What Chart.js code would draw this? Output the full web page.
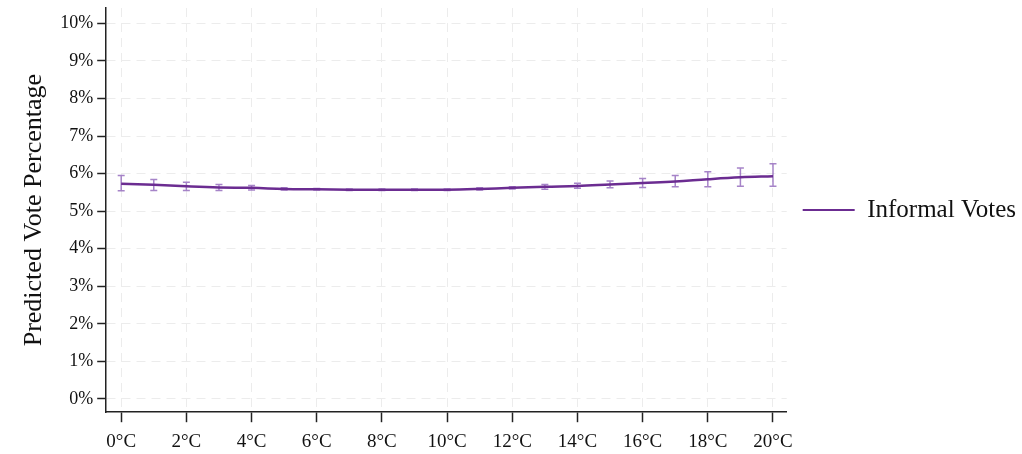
<!DOCTYPE html>
<html>
<head>
<meta charset="utf-8">
<script src="https://cdn.jsdelivr.net/npm/chart.js@4.4.0/dist/chart.umd.min.js"></script>
<style>
  html, body { margin: 0; padding: 0; background: #fff; }
  #wrap { width: 1022px; height: 454px; }
</style>
</head>
<body>
<div id="wrap"><canvas id="chart"></canvas></div>
<script>
// temperature (°C) and predicted share of informal votes (%)
const temps = [0, 1, 2, 3, 4, 5, 6, 7, 8, 9, 10, 11, 12, 13, 14, 15, 16, 17, 18, 19, 20];
const predicted = [5.73, 5.70, 5.66, 5.63, 5.62, 5.59, 5.58, 5.57, 5.57, 5.57, 5.57, 5.59, 5.62, 5.65, 5.67, 5.71, 5.75, 5.79, 5.85, 5.90, 5.93];
const lower = [5.54, 5.55, 5.55, 5.55, 5.56, 5.56, 5.56, 5.55, 5.55, 5.55, 5.55, 5.56, 5.59, 5.58, 5.61, 5.62, 5.63, 5.65, 5.65, 5.66, 5.66];
const upper = [5.95, 5.84, 5.77, 5.71, 5.68, 5.62, 5.60, 5.59, 5.59, 5.59, 5.59, 5.62, 5.65, 5.71, 5.74, 5.80, 5.87, 5.95, 6.05, 6.15, 6.26];
const xTicks = [0, 2, 4, 6, 8, 10, 12, 14, 16, 18, 20];
const yTicks = [0, 1, 2, 3, 4, 5, 6, 7, 8, 9, 10];

const lineColor = '#6b2c91';
const barColor = 'rgba(150, 110, 190, 0.85)';
const font = "'Liberation Serif', 'Times New Roman', serif";

// confidence intervals drawn under the line
const errorBars = {
    id: 'errorBars',
    beforeDatasetsDraw(chart) {
        const { ctx, chartArea, scales: { x, y } } = chart;
        ctx.save();
        ctx.beginPath();
        ctx.rect(chartArea.left, chartArea.top, chartArea.right - chartArea.left, chartArea.bottom - chartArea.top);
        ctx.clip();
        ctx.strokeStyle = barColor;
        ctx.lineWidth = 1.5;
        temps.forEach((t, i) => {
            const px = x.getPixelForValue(t);
            const top = y.getPixelForValue(upper[i]);
            const bot = y.getPixelForValue(lower[i]);
            ctx.beginPath();
            ctx.moveTo(px, top); ctx.lineTo(px, bot);
            ctx.moveTo(px - 3.5, top); ctx.lineTo(px + 3.5, top);
            ctx.moveTo(px - 3.5, bot); ctx.lineTo(px + 3.5, bot);
            ctx.stroke();
        });
        ctx.restore();
    }
};

const data = {
    datasets: [{
        label: 'Informal Votes',
        data: temps.map((t, i) => ({ x: t, y: predicted[i] })),
        borderColor: lineColor,
        backgroundColor: lineColor,
        borderWidth: 2.5,
        pointRadius: 0,
        tension: 0.4,
        fill: false
    }]
};

const config = {
    type: 'line',
    data: data,
    options: {
        responsive: true,
        maintainAspectRatio: false,
        animation: false,
        layout: { autoPadding: false, padding: { top: 8, right: -4, bottom: -7, left: 19 } },
        plugins: {
            tooltip: { enabled: false },
            legend: {
                position: 'right',
                fullSize: false,
                labels: {
                    boxWidth: 52,
                    boxHeight: 2,
                    padding: 16,
                    color: '#111',
                    font: { family: font, size: 25 },
                    generateLabels: c => Chart.defaults.plugins.legend.labels.generateLabels(c)
                        .map(item => Object.assign(item, { lineWidth: 0 }))
                }
            }
        },
        scales: {
            x: {
                type: 'linear',
                min: -0.46,
                max: 20.42,
                afterBuildTicks: axis => { axis.ticks = xTicks.map(v => ({ value: v })); },
                ticks: {
                    color: '#111',
                    padding: 8,
                    maxRotation: 0,
                    font: { family: font, size: 19 },
                    callback: v => v + '°C'
                },
                grid: { color: '#ececec', lineWidth: 1, tickColor: '#222', tickLength: 10, tickWidth: 1.5 },
                border: { display: true, color: '#222', width: 1.5, dash: [9, 6] }
            },
            y: {
                min: -0.355,
                max: 10.41,
                afterBuildTicks: axis => { axis.ticks = yTicks.map(v => ({ value: v })); },
                ticks: {
                    color: '#111',
                    padding: 4,
                    font: { family: font, size: 18, lineHeight: 0.44 },
                    callback: v => v + '%'
                },
                grid: { color: '#ececec', lineWidth: 1, tickColor: '#222', tickLength: 9, tickWidth: 1.5 },
                border: { display: true, color: '#222', width: 1.5, dash: [9, 6] },
                title: {
                    display: true,
                    text: 'Predicted Vote Percentage',
                    color: '#111',
                    font: { family: font, size: 26 },
                    padding: { top: 0, bottom: 6 }
                }
            }
        }
    },
    plugins: [errorBars]
};

const canvas = document.getElementById('chart').getContext('2d');
let chart = new Chart(canvas, config);
</script>
</body>
</html>
